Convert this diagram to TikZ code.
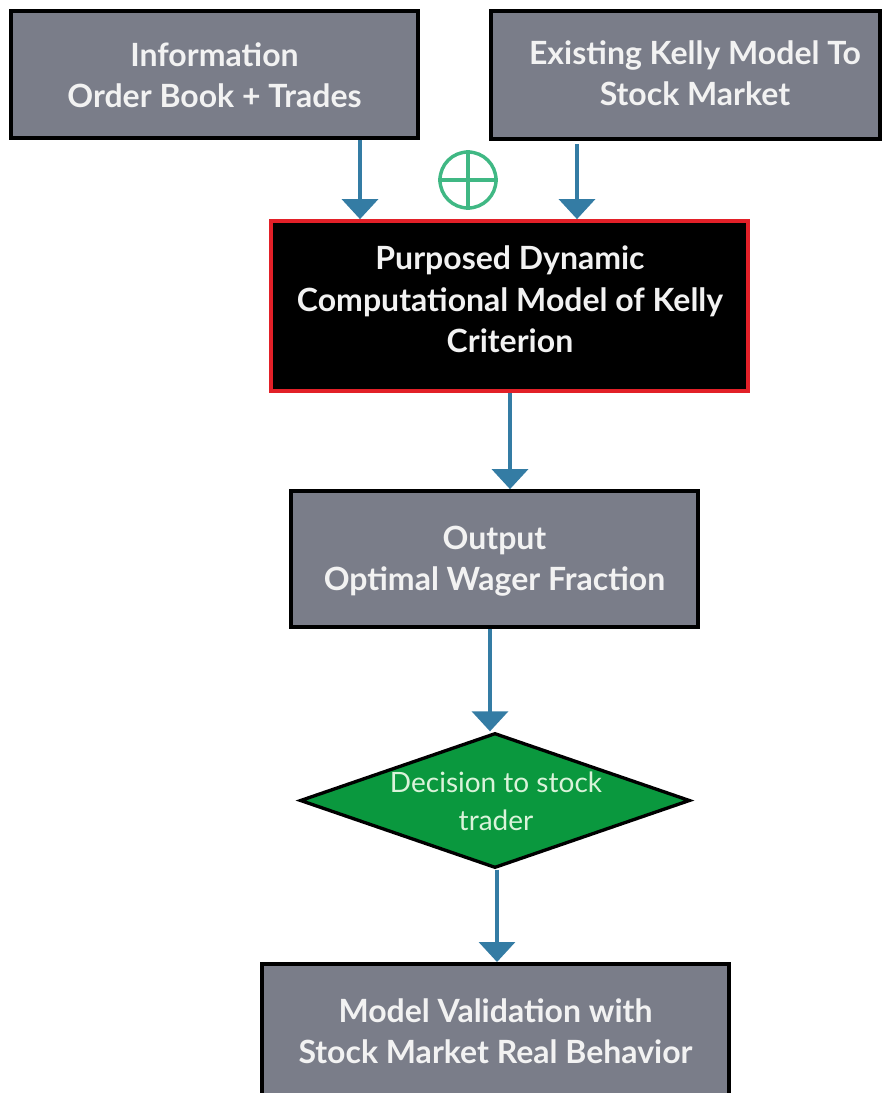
\documentclass[tikz,border=0pt]{standalone}
\usepackage{fontspec}
\setmainfont{Lato}
\usetikzlibrary{shapes.geometric,arrows.meta}
\definecolor{boxgray}{RGB}{122,125,137}
\definecolor{kred}{RGB}{226,32,40}
\definecolor{kgreen}{RGB}{10,152,62}
\definecolor{kblue}{RGB}{52,124,164}
\definecolor{oplusgreen}{RGB}{64,184,132}
\definecolor{txt}{RGB}{242,242,242}
\tikzset{
  graybox/.style={draw=black, line width=2.8pt, fill=boxgray, inner sep=0pt},
  boxtext/.style={text=txt, font=\fontsize{24}{31}\selectfont\bfseries, align=center},
  arr/.style={draw=kblue, line width=2.6pt, -{Triangle[width=27pt,length=15pt]}},
}
\begin{document}
\begin{tikzpicture}[x=0.75pt,y=-0.75pt]
\useasboundingbox (0,0) rectangle (887,1093);
\clip (0,0) rectangle (887,1093);
% boxes
\node[graybox, minimum width=407*0.75pt, minimum height=127*0.75pt] (info) at (214.5,74.5) {};
\node[boxtext] at (214.5,75) {Information\\Order Book + Trades};
\node[graybox, minimum width=389*0.75pt, minimum height=128*0.75pt] (kelly) at (685.5,75) {};
\node[boxtext] at (695,73) {Existing Kelly Model To\\Stock Market};
\node[draw=kred, line width=2.8pt, fill=black, minimum width=477*0.75pt, minimum height=170*0.75pt, inner sep=0pt] (model) at (509.5,306) {};
\node[boxtext] at (510,299.5) {Purposed Dynamic\\Computational Model of Kelly\\Criterion};
\node[graybox, minimum width=407*0.75pt, minimum height=136*0.75pt] (output) at (494.5,559) {};
\node[boxtext] at (494.5,561) {Output\\Optimal Wager Fraction};
\node[draw=black, line width=2.5pt, fill=kgreen, diamond, minimum width=390*0.75pt, minimum height=135*0.75pt, inner sep=0pt] (dec) at (495,800.5) {};
\node[text=txt!90!green, font=\fontsize{21}{28.5}\selectfont, align=center] at (496,801) {Decision to stock\\trader};
\node[graybox, minimum width=467*0.75pt, minimum height=160*0.75pt, anchor=north] (valid) at (495.5,962) {};
\node[boxtext] at (495.5,1031) {Model Validation with\\Stock Market Real Behavior};
% oplus
\node[draw=oplusgreen, line width=2.6pt, circle, minimum size=56*0.75pt, inner sep=0pt] (op) at (468,180) {};
\draw[oplusgreen, line width=2.6pt] (op.north) -- (op.south) (op.west) -- (op.east);
% arrows
\draw[arr] (info.south -| 360,0) -- (model.north -| 360,0);
\draw[arr] (kelly.south -| 577,0) ++(0,3) -- (model.north -| 577,0);
\draw[arr] (model.south -| 510,0) -- (output.north -| 510,0);
\draw[arr] (output.south -| 490,0) -- (dec.north -| 490,0);
\draw[arr] (dec.south -| 497,0) -- (valid.north -| 497,0);
\end{tikzpicture}
\end{document}
